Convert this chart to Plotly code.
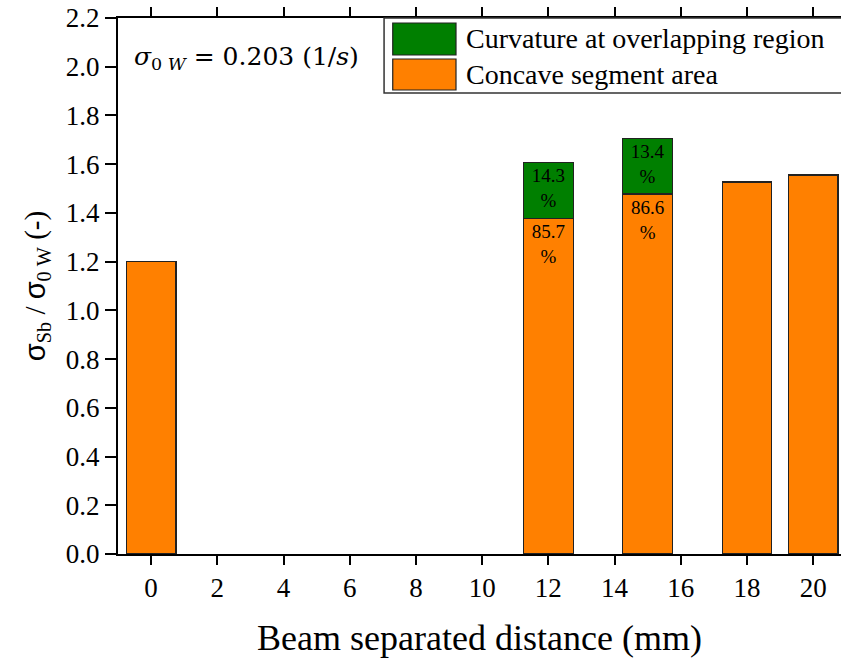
import plotly.graph_objects as go

# Beam separation (mm) and normalised strain-rate totals
distance = [0, 12, 15, 18, 20]
total_ratio = [1.20, 1.608, 1.706, 1.527, 1.556]
# Share of each bar attributed to the overlapping-region curvature (%)
overlap_pct = [0.0, 14.3, 13.4, 0.0, 0.0]
concave_pct = [100.0, 85.7, 86.6, 100.0, 100.0]

x_ticks = list(range(0, 21, 2))
y_ticks = [round(0.2 * i, 1) for i in range(12)]

ORANGE = "#FF8000"
GREEN = "#007F00"
SERIF = "Times New Roman"
EDGE = dict(color="#222222", width=1.2)

concave = [t * p / 100 for t, p in zip(total_ratio, concave_pct)]
overlap = [t * p / 100 for t, p in zip(total_ratio, overlap_pct)]

split = [i for i, p in enumerate(overlap_pct) if p > 0]
whole = [i for i, p in enumerate(overlap_pct) if p == 0]

label_font = dict(family=SERIF, size=19, color="black")

fig = go.Figure()
# Bars made only of the concave segment
fig.add_trace(go.Bar(
    x=[distance[i] for i in whole], y=[concave[i] for i in whole], width=1.5,
    name="Concave segment area", marker=dict(color=ORANGE, line=EDGE),
    showlegend=False,
))
# Split bars: concave part with its share
fig.add_trace(go.Bar(
    x=[distance[i] for i in split], y=[concave[i] for i in split], width=1.5,
    name="Concave segment area", marker=dict(color=ORANGE, line=EDGE),
    text=[f"{concave_pct[i]:.1f}<br>%" for i in split],
    textposition="inside", insidetextanchor="end", textfont=label_font,
    showlegend=False,
))
# Split bars: overlapping-region curvature on top
fig.add_trace(go.Bar(
    x=[distance[i] for i in split], y=[overlap[i] for i in split], width=1.5,
    name="Curvature at overlapping region", marker=dict(color=GREEN, line=EDGE),
    text=[f"{overlap_pct[i]:.1f}<br>%" for i in split],
    textposition="inside", insidetextanchor="end", textfont=label_font,
    showlegend=False,
))

# Legend box drawn in paper space with large swatches
shapes = [
    dict(type="rect", xref="paper", yref="paper", x0=0.368, x1=1.02, y0=0.860, y1=1.0,
         line=dict(color="#333333", width=1.5), fillcolor="white", layer="above"),
    dict(type="rect", xref="paper", yref="paper", x0=0.380, x1=0.4675, y0=0.931, y1=0.9907,
         line=EDGE, fillcolor=GREEN, layer="above"),
    dict(type="rect", xref="paper", yref="paper", x0=0.380, x1=0.4675, y0=0.8657, y1=0.9235,
         line=EDGE, fillcolor=ORANGE, layer="above"),
]
annotations = [
    dict(xref="paper", yref="paper", x=0.4786, y=0.961, xanchor="left", yanchor="middle",
         text="Curvature at overlapping region", showarrow=False,
         font=dict(family=SERIF, size=28, color="black")),
    dict(xref="paper", yref="paper", x=0.4786, y=0.8955, xanchor="left", yanchor="middle",
         text="Concave segment area", showarrow=False,
         font=dict(family=SERIF, size=28, color="black")),
    dict(xref="paper", yref="paper", x=0.02, y=0.925, xanchor="left", yanchor="middle",
         text="<i>σ</i><sub>0 <i>W</i></sub> = 0.203 (1/<i>s</i>)", showarrow=False,
         font=dict(family="DejaVu Serif", size=25, color="black")),
]

SIG = '<span style="font-family:Liberation Sans">σ</span>'
TICK_FONT = dict(family=SERIF, size=27, color="black")

fig.update_layout(
    barmode="stack",
    width=841, height=660,
    margin=dict(l=118, r=0, t=18, b=106, autoexpand=False),
    paper_bgcolor="white", plot_bgcolor="white",
    shapes=shapes, annotations=annotations,
    font=dict(family=SERIF, size=24, color="black"),
    xaxis=dict(
        range=[-1, 20.84], tickmode="array", tickvals=x_ticks,
        ticktext=[str(v) for v in x_ticks],
        ticks="outside", ticklen=9, tickwidth=1.5, tickcolor="black",
        showline=True, linecolor="black", linewidth=2, mirror="ticks",
        showgrid=False, zeroline=False, automargin=False,
        tickfont=TICK_FONT,
        title=dict(text="Beam separated distance (mm)", standoff=22,
                   font=dict(family=SERIF, size=36)),
    ),
    yaxis=dict(
        range=[0, 2.2], tickmode="array", tickvals=y_ticks,
        ticktext=[f"{v:.1f}" for v in y_ticks],
        ticks="outside", ticklen=11, tickwidth=1.5, tickcolor="black",
        showline=True, linecolor="black", linewidth=2, mirror=False,
        showgrid=False, zeroline=False, automargin=False,
        tickfont=TICK_FONT,
        title=dict(text=f"{SIG}<sub>Sb</sub> / {SIG}<sub>0 W</sub> (-)", standoff=12,
                   font=dict(family=SERIF, size=29)),
    ),
)

fig.write_html("out.html")
